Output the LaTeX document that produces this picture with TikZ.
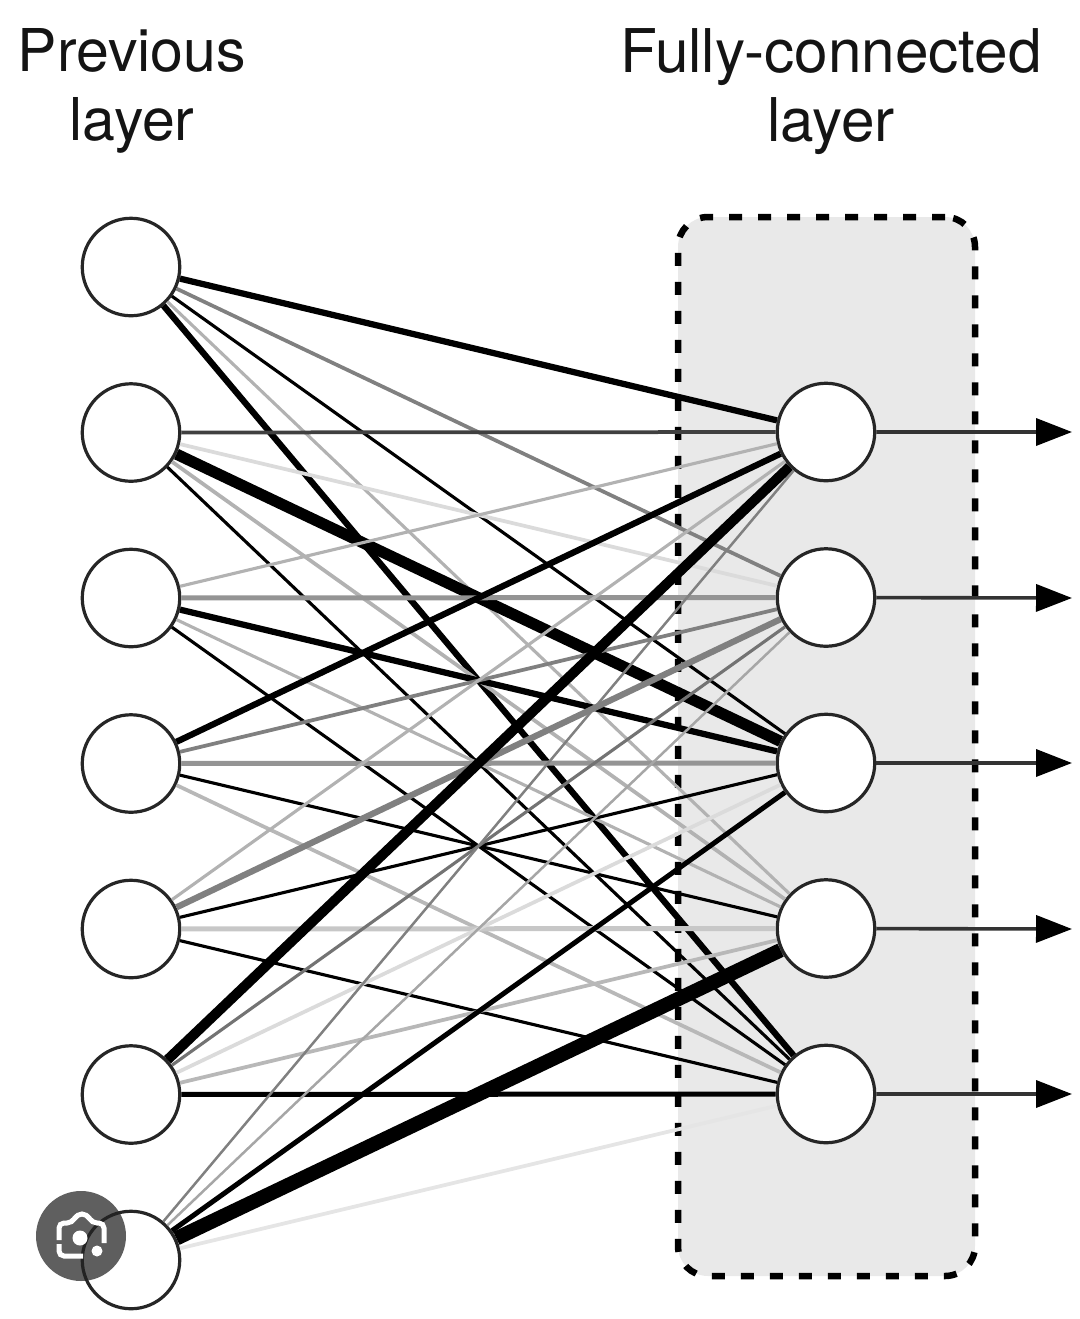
\documentclass[tikz,border=0pt]{standalone}
\usepackage{fontspec}
\setmainfont{TeX Gyre Heros}
\usetikzlibrary{matrix}
\usetikzlibrary{arrows.meta}

\definecolor{fieldgray}{HTML}{E9E9E9}
\definecolor{lensgray}{HTML}{232323}

\tikzset{
  neuron/.style={draw=black!85, fill=white, circle, line width=3.2pt, minimum size=97.5pt, inner sep=0pt, anchor=center},
  link/.style 2 args={draw=#1, line width=#2*1.25pt},
  output/.style={draw=black!80, line width=3.6pt, -{Triangle[length=36pt,width=27pt,color=black]}},
  title/.style={text=black!92, align=center, anchor=north, inner sep=0pt}
}

\begin{document}
\begin{tikzpicture}[x=1pt, y=-1pt]
      \useasboundingbox (0,0) rectangle (1079,1319);

      \node[title, font=\fontsize{59}{69.5}\selectfont] (prevtitle) at (132,28) {Previous\\layer};
      \node[title, font=\fontsize{60.3}{69.5}\selectfont] (fctitle) at (831,28) {Fully-connected\\layer};

      \node[draw=black, fill=fieldgray, line width=6.5pt, dash pattern=on 13pt off 16pt,
            rounded corners=30pt, minimum width=297pt, minimum height=1059pt,
            inner sep=0pt, outer sep=0pt] (field) at (826.5,746.5) {};

      \matrix[matrix of nodes, nodes={neuron}, row sep=64.8pt] (prev) at (131,763.5) {
        {} \\ {} \\ {} \\ {} \\ {} \\ {} \\ {} \\
      };
      \matrix[matrix of nodes, nodes={neuron}, row sep=64.8pt] (fc) at (826,763) {
        {} \\ {} \\ {} \\ {} \\ {} \\
      };

      \draw[link={black}{5}] (prev-1-1) -- (fc-1-1);
      \draw[link={black!50}{3}] (prev-1-1) -- (fc-2-1);
      \draw[link={black}{2.5}] (prev-1-1) -- (fc-3-1);
      \draw[link={black!30}{2.5}] (prev-1-1) -- (fc-4-1);
      \draw[link={black}{5}] (prev-1-1) -- (fc-5-1);

      \draw[link={black!75}{3}] (prev-2-1) -- (fc-1-1);
      \draw[link={black!14}{3}] (prev-2-1) -- (fc-2-1);
      \draw[link={black}{9}] (prev-2-1) -- (fc-3-1);
      \draw[link={black!30}{3}] (prev-2-1) -- (fc-4-1);
      \draw[link={black}{2.5}] (prev-2-1) -- (fc-5-1);

      \draw[link={black!30}{2.5}] (prev-3-1) -- (fc-1-1);
      \draw[link={black!42}{4}] (prev-3-1) -- (fc-2-1);
      \draw[link={black}{5}] (prev-3-1) -- (fc-3-1);
      \draw[link={black!30}{2.5}] (prev-3-1) -- (fc-4-1);
      \draw[link={black}{2.5}] (prev-3-1) -- (fc-5-1);

      \draw[link={black}{5}] (prev-4-1) -- (fc-1-1);
      \draw[link={black!50}{3}] (prev-4-1) -- (fc-2-1);
      \draw[link={black!42}{4}] (prev-4-1) -- (fc-3-1);
      \draw[link={black}{2.5}] (prev-4-1) -- (fc-4-1);
      \draw[link={black!28}{3}] (prev-4-1) -- (fc-5-1);

      \draw[link={black!30}{2.5}] (prev-5-1) -- (fc-1-1);
      \draw[link={black!50}{5}] (prev-5-1) -- (fc-2-1);
      \draw[link={black}{2.5}] (prev-5-1) -- (fc-3-1);
      \draw[link={black!22}{4}] (prev-5-1) -- (fc-4-1);
      \draw[link={black}{2.5}] (prev-5-1) -- (fc-5-1);

      \draw[link={black}{8}] (prev-6-1) -- (fc-1-1);
      \draw[link={black!55}{2.5}] (prev-6-1) -- (fc-2-1);
      \draw[link={black!14}{3}] (prev-6-1) -- (fc-3-1);
      \draw[link={black!28}{3}] (prev-6-1) -- (fc-4-1);
      \draw[link={black}{4}] (prev-6-1) -- (fc-5-1);

      \draw[link={black!50}{2}] (prev-7-1) -- (fc-1-1);
      \draw[link={black!35}{2}] (prev-7-1) -- (fc-2-1);
      \draw[link={black}{4}] (prev-7-1) -- (fc-3-1);
      \draw[link={black}{11.5}] (prev-7-1) -- (fc-4-1);
      \draw[link={black!10}{3}] (prev-7-1) -- (fc-5-1);

      \coordinate (out1) at (1072,432);
      \coordinate (out2) at (1072,598);
      \coordinate (out3) at (1072,763);
      \coordinate (out4) at (1072,929);
      \coordinate (out5) at (1072,1094);

      \draw[output] (fc-1-1) -- (out1);
      \draw[output] (fc-2-1) -- (out2);
      \draw[output] (fc-3-1) -- (out3);
      \draw[output] (fc-4-1) -- (out4);
      \draw[output] (fc-5-1) -- (out5);

      \node[circle, fill=lensgray, fill opacity=0.73, minimum size=90pt, inner sep=0pt] (lens) at (81,1236) {};
      \draw[white, line width=5pt, rounded corners=5pt]
        (59,1240) -- (59,1223) -- (72,1223) -- (77,1214) -- (87,1214) -- (92,1223) -- (104,1223) -- (104,1243);
      \draw[white, line width=5pt, rounded corners=5pt] (59,1244) -- (59,1256) -- (83,1256);
      \node[circle, fill=white, minimum size=15pt, inner sep=0pt] (lenseye) at (80,1238) {};
      \node[circle, fill=white, minimum size=11pt, inner sep=0pt] (lensdot) at (97,1251) {};
    \end{tikzpicture}
\end{document}
